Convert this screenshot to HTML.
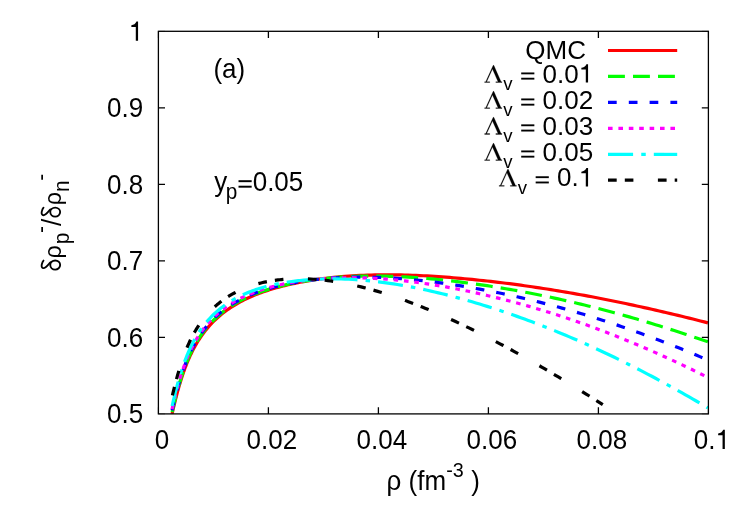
<!DOCTYPE html>
<html><head><meta charset="utf-8"><title>plot</title>
<style>html,body{margin:0;padding:0;background:#fff;}svg{display:block;}g.tx{opacity:0.999;}text{font-family:"Liberation Sans", sans-serif;fill:#000;}</style></head><body>
<svg width="747" height="523" viewBox="0 0 747 523">
<rect width="747" height="523" fill="#fff"/>
<defs><clipPath id="clip"><rect x="158.40" y="31.30" width="550.00" height="382.60"/></clipPath></defs>
<g class="tx">
<path d="M158.40,337.38 h6.60 M708.40,337.38 h-6.60 M268.40,413.90 v-6.60 M268.40,31.30 v6.60 M158.40,260.86 h6.60 M708.40,260.86 h-6.60 M378.40,413.90 v-6.60 M378.40,31.30 v6.60 M158.40,184.34 h6.60 M708.40,184.34 h-6.60 M488.40,413.90 v-6.60 M488.40,31.30 v6.60 M158.40,107.82 h6.60 M708.40,107.82 h-6.60 M598.40,413.90 v-6.60 M598.40,31.30 v6.60" stroke="#000" stroke-width="1.3" fill="none"/>
<path d="M158.40,413.90 h6.60 M708.40,413.90 h-6.60 M158.40,413.90 v-6.60 M158.40,31.30 v6.60 M158.40,31.30 h6.60 M708.40,31.30 h-6.60 M708.40,413.90 v-6.60 M708.40,31.30 v6.60" stroke="#000" stroke-width="1.3" stroke-opacity="0.35" fill="none"/>
<text transform="translate(143.20,423.30) scale(1,1.045)" font-size="26.00" text-anchor="end">0.5</text>
<text transform="translate(143.20,346.78) scale(1,1.045)" font-size="26.00" text-anchor="end">0.6</text>
<text transform="translate(143.20,270.26) scale(1,1.045)" font-size="26.00" text-anchor="end">0.7</text>
<text transform="translate(143.20,193.74) scale(1,1.045)" font-size="26.00" text-anchor="end">0.8</text>
<text transform="translate(143.20,117.22) scale(1,1.045)" font-size="26.00" text-anchor="end">0.9</text>
<path transform="translate(128.74,40.70) scale(0.02600,-0.02717)" d="M271,0 V505 H101 V568 C190,577 258,612 296,703 H359 V0 Z" fill="#000"/>
<text transform="translate(161.90,448.90) scale(1,1.045)" font-size="26.00" text-anchor="middle">0</text>
<text transform="translate(271.90,448.90) scale(1,1.045)" font-size="26.00" text-anchor="middle">0.02</text>
<text transform="translate(381.90,448.90) scale(1,1.045)" font-size="26.00" text-anchor="middle">0.04</text>
<text transform="translate(491.90,448.90) scale(1,1.045)" font-size="26.00" text-anchor="middle">0.06</text>
<text transform="translate(601.90,448.90) scale(1,1.045)" font-size="26.00" text-anchor="middle">0.08</text>
<text transform="translate(693.83,448.90) scale(1,1.045)" font-size="26.00" text-anchor="start">0.</text><path transform="translate(715.51,448.90) scale(0.02600,-0.02717)" d="M271,0 V505 H101 V568 C190,577 258,612 296,703 H359 V0 Z" fill="#000"/>
<g clip-path="url(#clip)" fill="none" stroke-width="3.20" stroke-linejoin="round">
<path d="M172.10,413.83 L172.57,411.78 L173.05,409.74 L173.52,407.73 L173.99,405.75 L174.46,403.79 L174.94,401.85 L175.41,399.95 L175.88,398.08 L176.36,396.25 L176.83,394.44 L177.30,392.67 L177.77,390.93 L178.25,389.22 L178.72,387.55 L179.19,385.91 L179.67,384.30 L180.14,382.72 L180.61,381.17 L181.08,379.66 L181.56,378.17 L182.03,376.71 L182.50,375.29 L182.98,373.89 L183.45,372.52 L183.92,371.17 L184.39,369.85 L184.87,368.56 L185.34,367.30 L185.81,366.06 L186.29,364.85 L186.76,363.65 L187.23,362.49 L187.71,361.34 L188.18,360.22 L188.65,359.12 L189.12,358.05 L189.60,356.99 L190.07,355.95 L190.54,354.94 L191.02,353.94 L191.49,352.97 L191.96,352.01 L192.43,351.07 L192.91,350.14 L193.38,349.24 L193.85,348.35 L194.33,347.47 L194.80,346.61 L195.27,345.77 L195.74,344.94 L196.22,344.12 L196.69,343.32 L197.16,342.53 L197.64,341.76 L198.11,341.00 L198.58,340.24 L199.05,339.51 L199.53,338.78 L200.00,338.07 L201.69,335.59 L203.39,333.25 L205.08,331.03 L206.78,328.93 L208.47,326.92 L210.17,325.02 L211.86,323.20 L213.56,321.46 L215.25,319.81 L216.95,318.22 L218.64,316.71 L220.34,315.26 L222.03,313.86 L223.73,312.53 L225.42,311.25 L227.12,310.01 L228.81,308.83 L230.51,307.69 L232.20,306.59 L233.90,305.53 L235.59,304.51 L237.29,303.52 L238.98,302.57 L240.68,301.65 L242.37,300.76 L244.07,299.90 L245.76,299.07 L247.46,298.27 L249.15,297.49 L250.85,296.74 L252.54,296.01 L254.24,295.31 L255.93,294.62 L257.63,293.96 L259.32,293.31 L261.02,292.69 L262.71,292.08 L264.41,291.49 L266.10,290.92 L267.80,290.37 L269.49,289.83 L271.19,289.31 L272.88,288.80 L274.58,288.30 L276.27,287.82 L277.97,287.35 L279.66,286.90 L281.36,286.46 L283.05,286.02 L284.75,285.61 L286.44,285.20 L288.14,284.80 L289.83,284.41 L291.53,284.04 L293.22,283.67 L294.92,283.31 L296.61,282.97 L298.31,282.63 L300.00,282.30 L303.74,281.60 L307.48,280.94 L311.23,280.33 L314.97,279.74 L318.71,279.20 L322.45,278.70 L326.20,278.23 L329.94,277.79 L333.68,277.39 L337.42,277.02 L341.16,276.68 L344.91,276.37 L348.65,276.10 L352.39,275.85 L356.13,275.63 L359.88,275.44 L363.62,275.28 L367.36,275.14 L371.10,275.03 L374.84,274.94 L378.59,274.88 L382.33,274.84 L386.07,274.82 L389.81,274.82 L393.56,274.85 L397.30,274.90 L401.04,274.97 L404.78,275.05 L408.52,275.16 L412.27,275.28 L416.01,275.43 L419.75,275.59 L423.49,275.77 L427.23,275.96 L430.98,276.17 L434.72,276.40 L438.46,276.64 L442.20,276.90 L445.95,277.17 L449.69,277.46 L453.43,277.76 L457.17,278.07 L460.91,278.40 L464.66,278.74 L468.40,279.09 L472.14,279.45 L475.88,279.83 L479.63,280.22 L483.37,280.62 L487.11,281.03 L490.85,281.45 L494.59,281.88 L498.34,282.32 L502.08,282.77 L505.82,283.24 L509.56,283.71 L513.31,284.20 L517.05,284.69 L520.79,285.20 L524.53,285.72 L528.27,286.24 L532.02,286.78 L535.76,287.33 L539.50,287.89 L543.24,288.46 L546.99,289.04 L550.73,289.63 L554.47,290.23 L558.21,290.85 L561.95,291.47 L565.70,292.10 L569.44,292.74 L573.18,293.40 L576.92,294.06 L580.67,294.73 L584.41,295.41 L588.15,296.10 L591.89,296.80 L595.63,297.52 L599.38,298.24 L603.12,298.97 L606.86,299.70 L610.60,300.45 L614.34,301.21 L618.09,301.98 L621.83,302.75 L625.57,303.54 L629.31,304.33 L633.06,305.13 L636.80,305.94 L640.54,306.76 L644.28,307.58 L648.02,308.42 L651.77,309.26 L655.51,310.11 L659.25,310.97 L662.99,311.84 L666.74,312.72 L670.48,313.60 L674.22,314.49 L677.96,315.39 L681.70,316.29 L685.45,317.21 L689.19,318.13 L692.93,319.05 L696.67,319.99 L700.42,320.93 L704.16,321.88 L707.90,322.84" stroke="#ff0000"/>
<path d="M172.10,412.15 L172.57,410.10 L173.05,408.07 L173.52,406.06 L173.99,404.08 L174.46,402.12 L174.94,400.19 L175.41,398.30 L175.88,396.43 L176.36,394.60 L176.83,392.80 L177.30,391.03 L177.77,389.29 L178.25,387.59 L178.72,385.92 L179.19,384.28 L179.67,382.67 L180.14,381.10 L180.61,379.56 L181.08,378.04 L181.56,376.56 L182.03,375.11 L182.50,373.68 L182.98,372.29 L183.45,370.92 L183.92,369.58 L184.39,368.27 L184.87,366.98 L185.34,365.72 L185.81,364.48 L186.29,363.27 L186.76,362.08 L187.23,360.92 L187.71,359.78 L188.18,358.66 L188.65,357.57 L189.12,356.49 L189.60,355.44 L190.07,354.41 L190.54,353.40 L191.02,352.41 L191.49,351.43 L191.96,350.48 L192.43,349.54 L192.91,348.62 L193.38,347.72 L193.85,346.83 L194.33,345.96 L194.80,345.11 L195.27,344.27 L195.74,343.44 L196.22,342.63 L196.69,341.83 L197.16,341.05 L197.64,340.28 L198.11,339.52 L198.58,338.77 L199.05,338.04 L199.53,337.31 L200.00,336.60 L201.69,334.14 L203.39,331.82 L205.08,329.61 L206.78,327.52 L208.47,325.53 L210.17,323.64 L211.86,321.84 L213.56,320.12 L215.25,318.48 L216.95,316.91 L218.64,315.41 L220.34,313.97 L222.03,312.60 L223.73,311.28 L225.42,310.01 L227.12,308.79 L228.81,307.63 L230.51,306.50 L232.20,305.42 L233.90,304.38 L235.59,303.37 L237.29,302.40 L238.98,301.47 L240.68,300.57 L242.37,299.70 L244.07,298.86 L245.76,298.05 L247.46,297.26 L249.15,296.51 L250.85,295.77 L252.54,295.06 L254.24,294.38 L255.93,293.71 L257.63,293.07 L259.32,292.44 L261.02,291.84 L262.71,291.25 L264.41,290.69 L266.10,290.13 L267.80,289.60 L269.49,289.08 L271.19,288.58 L272.88,288.09 L274.58,287.62 L276.27,287.16 L277.97,286.72 L279.66,286.28 L281.36,285.86 L283.05,285.46 L284.75,285.06 L286.44,284.68 L288.14,284.30 L289.83,283.94 L291.53,283.59 L293.22,283.25 L294.92,282.92 L296.61,282.59 L298.31,282.28 L300.00,281.98 L303.74,281.34 L307.48,280.74 L311.23,280.18 L314.97,279.66 L318.71,279.18 L322.45,278.74 L326.20,278.34 L329.94,277.97 L333.68,277.63 L337.42,277.34 L341.16,277.07 L344.91,276.84 L348.65,276.64 L352.39,276.47 L356.13,276.33 L359.88,276.22 L363.62,276.13 L367.36,276.08 L371.10,276.05 L374.84,276.05 L378.59,276.08 L382.33,276.13 L386.07,276.20 L389.81,276.30 L393.56,276.43 L397.30,276.57 L401.04,276.74 L404.78,276.93 L408.52,277.14 L412.27,277.37 L416.01,277.62 L419.75,277.89 L423.49,278.18 L427.23,278.49 L430.98,278.82 L434.72,279.17 L438.46,279.53 L442.20,279.91 L445.95,280.31 L449.69,280.72 L453.43,281.15 L457.17,281.60 L460.91,282.06 L464.66,282.54 L468.40,283.03 L472.14,283.53 L475.88,284.06 L479.63,284.59 L483.37,285.14 L487.11,285.70 L490.85,286.28 L494.59,286.87 L498.34,287.47 L502.08,288.08 L505.82,288.71 L509.56,289.35 L513.31,290.01 L517.05,290.68 L520.79,291.36 L524.53,292.06 L528.27,292.77 L532.02,293.49 L535.76,294.22 L539.50,294.97 L543.24,295.74 L546.99,296.51 L550.73,297.30 L554.47,298.11 L558.21,298.92 L561.95,299.75 L565.70,300.60 L569.44,301.45 L573.18,302.32 L576.92,303.21 L580.67,304.10 L584.41,305.01 L588.15,305.93 L591.89,306.87 L595.63,307.81 L599.38,308.77 L603.12,309.75 L606.86,310.73 L610.60,311.73 L614.34,312.74 L618.09,313.76 L621.83,314.80 L625.57,315.84 L629.31,316.90 L633.06,317.98 L636.80,319.06 L640.54,320.16 L644.28,321.26 L648.02,322.38 L651.77,323.51 L655.51,324.66 L659.25,325.81 L662.99,326.98 L666.74,328.16 L670.48,329.35 L674.22,330.55 L677.96,331.76 L681.70,332.98 L685.45,334.22 L689.19,335.47 L692.93,336.72 L696.67,337.99 L700.42,339.27 L704.16,340.56 L707.90,341.86" stroke="#00ff00" stroke-dasharray="16.90,8.10" stroke-dashoffset="0.00"/>
<path d="M172.10,410.47 L172.57,408.42 L173.05,406.40 L173.52,404.39 L173.99,402.41 L174.46,400.46 L174.94,398.53 L175.41,396.64 L175.88,394.78 L176.36,392.95 L176.83,391.15 L177.30,389.38 L177.77,387.65 L178.25,385.95 L178.72,384.28 L179.19,382.65 L179.67,381.05 L180.14,379.47 L180.61,377.93 L181.08,376.42 L181.56,374.94 L182.03,373.49 L182.50,372.07 L182.98,370.68 L183.45,369.32 L183.92,367.98 L184.39,366.67 L184.87,365.39 L185.34,364.13 L185.81,362.90 L186.29,361.69 L186.76,360.51 L187.23,359.35 L187.71,358.21 L188.18,357.10 L188.65,356.00 L189.12,354.93 L189.60,353.88 L190.07,352.86 L190.54,351.85 L191.02,350.86 L191.49,349.89 L191.96,348.94 L192.43,348.01 L192.91,347.09 L193.38,346.19 L193.85,345.31 L194.33,344.44 L194.80,343.59 L195.27,342.75 L195.74,341.93 L196.22,341.12 L196.69,340.33 L197.16,339.55 L197.64,338.78 L198.11,338.02 L198.58,337.28 L199.05,336.55 L199.53,335.83 L200.00,335.13 L201.69,332.68 L203.39,330.37 L205.08,328.18 L206.78,326.10 L208.47,324.13 L210.17,322.25 L211.86,320.46 L213.56,318.76 L215.25,317.13 L216.95,315.58 L218.64,314.10 L220.34,312.68 L222.03,311.32 L223.73,310.01 L225.42,308.76 L227.12,307.56 L228.81,306.41 L230.51,305.31 L232.20,304.24 L233.90,303.22 L235.59,302.23 L237.29,301.28 L238.98,300.37 L240.68,299.48 L242.37,298.63 L244.07,297.81 L245.76,297.02 L247.46,296.26 L249.15,295.52 L250.85,294.80 L252.54,294.11 L254.24,293.45 L255.93,292.80 L257.63,292.18 L259.32,291.58 L261.02,290.99 L262.71,290.43 L264.41,289.88 L266.10,289.36 L267.80,288.85 L269.49,288.35 L271.19,287.87 L272.88,287.41 L274.58,286.96 L276.27,286.52 L277.97,286.10 L279.66,285.69 L281.36,285.30 L283.05,284.92 L284.75,284.54 L286.44,284.19 L288.14,283.84 L289.83,283.50 L291.53,283.18 L293.22,282.86 L294.92,282.56 L296.61,282.26 L298.31,281.97 L300.00,281.70 L303.74,281.12 L307.48,280.58 L311.23,280.09 L314.97,279.64 L318.71,279.23 L322.45,278.85 L326.20,278.52 L329.94,278.22 L333.68,277.96 L337.42,277.74 L341.16,277.55 L344.91,277.39 L348.65,277.27 L352.39,277.18 L356.13,277.13 L359.88,277.10 L363.62,277.11 L367.36,277.14 L371.10,277.20 L374.84,277.29 L378.59,277.41 L382.33,277.56 L386.07,277.73 L389.81,277.93 L393.56,278.15 L397.30,278.39 L401.04,278.67 L404.78,278.96 L408.52,279.28 L412.27,279.62 L416.01,279.98 L419.75,280.36 L423.49,280.77 L427.23,281.20 L430.98,281.64 L434.72,282.11 L438.46,282.59 L442.20,283.10 L445.95,283.62 L449.69,284.17 L453.43,284.73 L457.17,285.31 L460.91,285.90 L464.66,286.52 L468.40,287.15 L472.14,287.80 L475.88,288.46 L479.63,289.14 L483.37,289.84 L487.11,290.55 L490.85,291.28 L494.59,292.02 L498.34,292.78 L502.08,293.55 L505.82,294.34 L509.56,295.15 L513.31,295.97 L517.05,296.81 L520.79,297.66 L524.53,298.53 L528.27,299.41 L532.02,300.31 L535.76,301.23 L539.50,302.16 L543.24,303.11 L546.99,304.08 L550.73,305.06 L554.47,306.05 L558.21,307.06 L561.95,308.09 L565.70,309.14 L569.44,310.20 L573.18,311.27 L576.92,312.36 L580.67,313.47 L584.41,314.59 L588.15,315.73 L591.89,316.88 L595.63,318.05 L599.38,319.23 L603.12,320.43 L606.86,321.65 L610.60,322.88 L614.34,324.12 L618.09,325.38 L621.83,326.66 L625.57,327.95 L629.31,329.26 L633.06,330.58 L636.80,331.91 L640.54,333.26 L644.28,334.63 L648.02,336.01 L651.77,337.41 L655.51,338.82 L659.25,340.24 L662.99,341.68 L666.74,343.14 L670.48,344.60 L674.22,346.09 L677.96,347.59 L681.70,349.10 L685.45,350.63 L689.19,352.17 L692.93,353.72 L696.67,355.29 L700.42,356.87 L704.16,358.47 L707.90,360.08" stroke="#0000ff" stroke-dasharray="8.70,12.10" stroke-dashoffset="0.00"/>
<path d="M172.10,409.02 L172.57,406.98 L173.05,404.95 L173.52,402.95 L173.99,400.97 L174.46,399.01 L174.94,397.09 L175.41,395.19 L175.88,393.33 L176.36,391.50 L176.83,389.70 L177.30,387.93 L177.77,386.20 L178.25,384.50 L178.72,382.83 L179.19,381.20 L179.67,379.59 L180.14,378.02 L180.61,376.48 L181.08,374.97 L181.56,373.49 L182.03,372.04 L182.50,370.62 L182.98,369.23 L183.45,367.87 L183.92,366.53 L184.39,365.22 L184.87,363.94 L185.34,362.68 L185.81,361.45 L186.29,360.24 L186.76,359.06 L187.23,357.90 L187.71,356.76 L188.18,355.65 L188.65,354.56 L189.12,353.49 L189.60,352.44 L190.07,351.41 L190.54,350.40 L191.02,349.41 L191.49,348.45 L191.96,347.50 L192.43,346.56 L192.91,345.65 L193.38,344.75 L193.85,343.87 L194.33,343.00 L194.80,342.15 L195.27,341.31 L195.74,340.49 L196.22,339.68 L196.69,338.89 L197.16,338.11 L197.64,337.34 L198.11,336.59 L198.58,335.85 L199.05,335.12 L199.53,334.40 L200.00,333.70 L201.69,331.26 L203.39,328.95 L205.08,326.76 L206.78,324.69 L208.47,322.72 L210.17,320.85 L211.86,319.07 L213.56,317.38 L215.25,315.76 L216.95,314.21 L218.64,312.74 L220.34,311.33 L222.03,309.97 L223.73,308.68 L225.42,307.44 L227.12,306.25 L228.81,305.11 L230.51,304.01 L232.20,302.96 L233.90,301.95 L235.59,300.97 L237.29,300.04 L238.98,299.13 L240.68,298.27 L242.37,297.43 L244.07,296.62 L245.76,295.84 L247.46,295.09 L249.15,294.37 L250.85,293.67 L252.54,293.00 L254.24,292.35 L255.93,291.72 L257.63,291.12 L259.32,290.53 L261.02,289.97 L262.71,289.42 L264.41,288.90 L266.10,288.39 L267.80,287.90 L269.49,287.42 L271.19,286.96 L272.88,286.52 L274.58,286.09 L276.27,285.68 L277.97,285.28 L279.66,284.89 L281.36,284.52 L283.05,284.16 L284.75,283.81 L286.44,283.48 L288.14,283.16 L289.83,282.84 L291.53,282.54 L293.22,282.25 L294.92,281.97 L296.61,281.71 L298.31,281.45 L300.00,281.20 L303.74,280.68 L307.48,280.21 L311.23,279.78 L314.97,279.39 L318.71,279.05 L322.45,278.75 L326.20,278.49 L329.94,278.27 L333.68,278.08 L337.42,277.94 L341.16,277.83 L344.91,277.76 L348.65,277.72 L352.39,277.72 L356.13,277.75 L359.88,277.81 L363.62,277.91 L367.36,278.04 L371.10,278.19 L374.84,278.38 L378.59,278.60 L382.33,278.85 L386.07,279.12 L389.81,279.42 L393.56,279.75 L397.30,280.11 L401.04,280.49 L404.78,280.90 L408.52,281.33 L412.27,281.79 L416.01,282.27 L419.75,282.77 L423.49,283.30 L427.23,283.85 L430.98,284.43 L434.72,285.02 L438.46,285.64 L442.20,286.27 L445.95,286.93 L449.69,287.61 L453.43,288.31 L457.17,289.03 L460.91,289.76 L464.66,290.52 L468.40,291.30 L472.14,292.09 L475.88,292.91 L479.63,293.74 L483.37,294.59 L487.11,295.45 L490.85,296.34 L494.59,297.24 L498.34,298.16 L502.08,299.09 L505.82,300.05 L509.56,301.02 L513.31,302.01 L517.05,303.02 L520.79,304.04 L524.53,305.08 L528.27,306.14 L532.02,307.22 L535.76,308.32 L539.50,309.43 L543.24,310.56 L546.99,311.71 L550.73,312.88 L554.47,314.07 L558.21,315.27 L561.95,316.49 L565.70,317.73 L569.44,318.98 L573.18,320.25 L576.92,321.55 L580.67,322.85 L584.41,324.18 L588.15,325.52 L591.89,326.88 L595.63,328.26 L599.38,329.66 L603.12,331.07 L606.86,332.50 L610.60,333.95 L614.34,335.41 L618.09,336.89 L621.83,338.39 L625.57,339.91 L629.31,341.44 L633.06,342.99 L636.80,344.55 L640.54,346.14 L644.28,347.74 L648.02,349.35 L651.77,350.99 L655.51,352.64 L659.25,354.30 L662.99,355.99 L666.74,357.69 L670.48,359.40 L674.22,361.13 L677.96,362.88 L681.70,364.65 L685.45,366.43 L689.19,368.23 L692.93,370.04 L696.67,371.87 L700.42,373.71 L704.16,375.58 L707.90,377.45" stroke="#ff00ff" stroke-dasharray="4.60,5.80" stroke-dashoffset="0.00"/>
<path d="M172.12,406.00 L172.57,404.02 L173.05,401.99 L173.52,399.98 L173.99,398.00 L174.46,396.04 L174.94,394.11 L175.41,392.22 L175.88,390.35 L176.36,388.52 L176.83,386.72 L177.30,384.95 L177.77,383.22 L178.25,381.51 L178.72,379.84 L179.19,378.21 L179.67,376.60 L180.14,375.03 L180.61,373.49 L181.08,371.98 L181.56,370.50 L182.03,369.05 L182.50,367.62 L182.98,366.23 L183.45,364.87 L183.92,363.53 L184.39,362.22 L184.87,360.94 L185.34,359.68 L185.81,358.45 L186.29,357.24 L186.76,356.05 L187.23,354.90 L187.71,353.76 L188.18,352.65 L188.65,351.55 L189.12,350.49 L189.60,349.44 L190.07,348.41 L190.54,347.40 L191.02,346.42 L191.49,345.45 L191.96,344.50 L192.43,343.57 L192.91,342.65 L193.38,341.76 L193.85,340.87 L194.33,340.01 L194.80,339.16 L195.27,338.33 L195.74,337.51 L196.22,336.70 L196.69,335.91 L197.16,335.13 L197.64,334.37 L198.11,333.61 L198.58,332.87 L199.05,332.15 L199.53,331.43 L200.00,330.73 L201.69,328.30 L203.39,326.00 L205.08,323.83 L206.78,321.77 L208.47,319.81 L210.17,317.96 L211.86,316.19 L213.56,314.51 L215.25,312.91 L216.95,311.38 L218.64,309.93 L220.34,308.54 L222.03,307.21 L223.73,305.94 L225.42,304.72 L227.12,303.56 L228.81,302.44 L230.51,301.38 L232.20,300.35 L233.90,299.37 L235.59,298.42 L237.29,297.52 L238.98,296.65 L240.68,295.81 L242.37,295.01 L244.07,294.24 L245.76,293.50 L247.46,292.78 L249.15,292.10 L250.85,291.44 L252.54,290.81 L254.24,290.20 L255.93,289.61 L257.63,289.05 L259.32,288.51 L261.02,287.99 L262.71,287.49 L264.41,287.01 L266.10,286.55 L267.80,286.11 L269.49,285.68 L271.19,285.27 L272.88,284.88 L274.58,284.51 L276.27,284.15 L277.97,283.80 L279.66,283.47 L281.36,283.16 L283.05,282.85 L284.75,282.56 L286.44,282.29 L288.14,282.02 L289.83,281.77 L291.53,281.53 L293.22,281.31 L294.92,281.09 L296.61,280.89 L298.31,280.69 L300.00,280.51 L303.74,280.14 L307.48,279.82 L311.23,279.55 L314.97,279.32 L318.71,279.15 L322.45,279.01 L326.20,278.92 L329.94,278.88 L333.68,278.87 L337.42,278.91 L341.16,278.99 L344.91,279.11 L348.65,279.27 L352.39,279.46 L356.13,279.70 L359.88,279.97 L363.62,280.27 L367.36,280.61 L371.10,280.99 L374.84,281.39 L378.59,281.83 L382.33,282.31 L386.07,282.81 L389.81,283.34 L393.56,283.91 L397.30,284.50 L401.04,285.13 L404.78,285.78 L408.52,286.46 L412.27,287.16 L416.01,287.90 L419.75,288.66 L423.49,289.44 L427.23,290.25 L430.98,291.09 L434.72,291.95 L438.46,292.83 L442.20,293.74 L445.95,294.67 L449.69,295.63 L453.43,296.61 L457.17,297.61 L460.91,298.63 L464.66,299.67 L468.40,300.73 L472.14,301.82 L475.88,302.92 L479.63,304.05 L483.37,305.19 L487.11,306.36 L490.85,307.54 L494.59,308.75 L498.34,309.97 L502.08,311.21 L505.82,312.47 L509.56,313.75 L513.31,315.05 L517.05,316.37 L520.79,317.71 L524.53,319.07 L528.27,320.44 L532.02,321.84 L535.76,323.26 L539.50,324.69 L543.24,326.14 L546.99,327.62 L550.73,329.11 L554.47,330.62 L558.21,332.15 L561.95,333.70 L565.70,335.27 L569.44,336.85 L573.18,338.46 L576.92,340.08 L580.67,341.72 L584.41,343.38 L588.15,345.06 L591.89,346.76 L595.63,348.47 L599.38,350.20 L603.12,351.95 L606.86,353.72 L610.60,355.51 L614.34,357.31 L618.09,359.13 L621.83,360.97 L625.57,362.82 L629.31,364.70 L633.06,366.59 L636.80,368.49 L640.54,370.42 L644.28,372.36 L648.02,374.32 L651.77,376.29 L655.51,378.28 L659.25,380.29 L662.99,382.31 L666.74,384.35 L670.48,386.41 L674.22,388.48 L677.96,390.57 L681.70,392.68 L685.45,394.80 L689.19,396.93 L692.93,399.09 L696.67,401.25 L700.42,403.44 L704.16,405.64 L707.90,407.85" stroke="#00ffff" stroke-dasharray="25.10,8.15,4.50,8.05" stroke-dashoffset="0.00"/>
<path d="M172.40,395.40 L172.57,394.66 L173.05,392.69 L173.52,390.75 L173.99,388.82 L174.46,386.93 L174.94,385.06 L175.41,383.22 L175.88,381.42 L176.36,379.64 L176.83,377.90 L177.30,376.18 L177.77,374.50 L178.25,372.85 L178.72,371.24 L179.19,369.65 L179.67,368.09 L180.14,366.57 L180.61,365.08 L181.08,363.61 L181.56,362.18 L182.03,360.77 L182.50,359.40 L182.98,358.05 L183.45,356.72 L183.92,355.43 L184.39,354.16 L184.87,352.92 L185.34,351.70 L185.81,350.50 L186.29,349.34 L186.76,348.19 L187.23,347.07 L187.71,345.97 L188.18,344.89 L188.65,343.83 L189.12,342.79 L189.60,341.78 L190.07,340.78 L190.54,339.81 L191.02,338.85 L191.49,337.91 L191.96,336.99 L192.43,336.09 L192.91,335.21 L193.38,334.34 L193.85,333.48 L194.33,332.64 L194.80,331.82 L195.27,331.01 L195.74,330.22 L196.22,329.43 L196.69,328.67 L197.16,327.91 L197.64,327.17 L198.11,326.44 L198.58,325.72 L199.05,325.02 L199.53,324.32 L200.00,323.64 L201.69,321.28 L203.39,319.05 L205.08,316.93 L206.78,314.93 L208.47,313.03 L210.17,311.22 L211.86,309.50 L213.56,307.87 L215.25,306.32 L216.95,304.83 L218.64,303.42 L220.34,302.08 L222.03,300.79 L223.73,299.56 L225.42,298.39 L227.12,297.27 L228.81,296.20 L230.51,295.18 L232.20,294.20 L233.90,293.26 L235.59,292.37 L237.29,291.51 L238.98,290.69 L240.68,289.91 L242.37,289.16 L244.07,288.45 L245.76,287.77 L247.46,287.12 L249.15,286.50 L250.85,285.91 L252.54,285.35 L254.24,284.82 L255.93,284.32 L257.63,283.84 L259.32,283.38 L261.02,282.95 L262.71,282.55 L264.41,282.17 L266.10,281.82 L267.80,281.48 L269.49,281.17 L271.19,280.88 L272.88,280.61 L274.58,280.36 L276.27,280.13 L277.97,279.92 L279.66,279.73 L281.36,279.56 L283.05,279.40 L284.75,279.26 L286.44,279.14 L288.14,279.04 L289.83,278.95 L291.53,278.87 L293.22,278.82 L294.92,278.77 L296.61,278.75 L298.31,278.73 L300.00,278.73 L302.78,278.76 L305.56,278.83 L308.33,278.93 L311.11,279.07 L313.89,279.24 L316.67,279.45 L319.45,279.69 L322.22,279.96 L325.00,280.27 L327.78,280.60 L330.56,280.97 L333.34,281.37 L336.11,281.79 L338.89,282.25 L341.67,282.73 L344.45,283.25 L347.23,283.79 L350.00,284.36 L352.78,284.95 L355.56,285.57 L358.34,286.22 L361.12,286.89 L363.89,287.58 L366.67,288.30 L369.45,289.04 L372.23,289.81 L375.01,290.59 L377.78,291.40 L380.56,292.23 L383.34,293.08 L386.12,293.96 L388.90,294.85 L391.67,295.76 L394.45,296.69 L397.23,297.64 L400.01,298.61 L402.79,299.60 L405.56,300.61 L408.34,301.63 L411.12,302.68 L413.90,303.74 L416.68,304.81 L419.45,305.91 L422.23,307.02 L425.01,308.15 L427.79,309.29 L430.57,310.45 L433.34,311.62 L436.12,312.81 L438.90,314.01 L441.68,315.23 L444.46,316.47 L447.23,317.71 L450.01,318.97 L452.79,320.25 L455.57,321.54 L458.34,322.84 L461.12,324.15 L463.90,325.48 L466.68,326.82 L469.46,328.17 L472.23,329.53 L475.01,330.91 L477.79,332.30 L480.57,333.69 L483.35,335.10 L486.12,336.52 L488.90,337.96 L491.68,339.40 L494.46,340.85 L497.24,342.31 L500.01,343.79 L502.79,345.27 L505.57,346.76 L508.35,348.27 L511.13,349.78 L513.90,351.30 L516.68,352.83 L519.46,354.38 L522.24,355.93 L525.02,357.49 L527.79,359.06 L530.57,360.64 L533.35,362.23 L536.13,363.83 L538.91,365.44 L541.68,367.05 L544.46,368.68 L547.24,370.31 L550.02,371.96 L552.80,373.61 L555.57,375.26 L558.35,376.93 L561.13,378.61 L563.91,380.29 L566.69,381.98 L569.46,383.68 L572.24,385.38 L575.02,387.10 L577.80,388.82 L580.58,390.54 L583.35,392.28 L586.13,394.02 L588.91,395.77 L591.69,397.52 L594.47,399.28 L597.24,401.05 L600.02,402.83 L602.80,404.61" stroke="#000000" stroke-dasharray="8.70,8.10,8.60,24.50" stroke-dashoffset="0.00"/>
</g>
<rect x="158.40" y="31.30" width="550.00" height="382.60" fill="none" stroke="#000" stroke-width="1.3"/>
<path d="M608.00,50.50 H677.20" stroke="#ff0000" stroke-width="3.20" fill="none"/>
<path d="M608.00,76.40 H677.20" stroke="#00ff00" stroke-width="3.20" fill="none" stroke-dasharray="16.90,8.10"/>
<path d="M608.00,102.40 H677.20" stroke="#0000ff" stroke-width="3.20" fill="none" stroke-dasharray="8.70,12.10"/>
<path d="M608.00,128.30 H677.20" stroke="#ff00ff" stroke-width="3.20" fill="none" stroke-dasharray="4.60,5.80"/>
<path d="M608.00,154.40 H677.20" stroke="#00ffff" stroke-width="3.20" fill="none" stroke-dasharray="25.10,8.15,4.50,8.05"/>
<path d="M608.00,180.20 H677.20" stroke="#000000" stroke-width="3.20" fill="none" stroke-dasharray="8.70,8.10,8.60,24.50"/>
<text transform="translate(586.00,59.00) scale(1,1.000)" font-size="26.00" text-anchor="end">QMC</text>
<text transform="translate(542.60,82.60) scale(1,1.000)" font-size="26.00" text-anchor="start">0.0</text><path transform="translate(578.74,82.60) scale(0.02600,-0.02600)" d="M271,0 V505 H101 V568 C190,577 258,612 296,703 H359 V0 Z" fill="#000"/>
<rect x="521.20" y="77.74" width="13.16" height="1.87" fill="#000"/><rect x="521.20" y="72.46" width="13.16" height="1.87" fill="#000"/>
<text transform="translate(512.56,90.00) scale(1,1.000)" font-size="18.60" text-anchor="end">v</text>
<path d="M484.61,82.50 L489.81,82.50 L489.81,81.72 L486.69,81.72 L492.46,69.06 L498.07,81.72 L495.81,81.72 L495.81,82.50 L502.01,82.50 L502.01,81.72 L501.07,81.72 L493.81,65.33 L493.21,65.33 L485.74,81.72 L484.61,81.72 Z" fill="#000" stroke="#000" stroke-width="0.25" stroke-linejoin="round"/>
<text transform="translate(593.20,108.60) scale(1,1.000)" font-size="26.00" text-anchor="end">0.02</text>
<rect x="521.20" y="103.74" width="13.16" height="1.87" fill="#000"/><rect x="521.20" y="98.46" width="13.16" height="1.87" fill="#000"/>
<text transform="translate(512.56,116.00) scale(1,1.000)" font-size="18.60" text-anchor="end">v</text>
<path d="M484.61,108.50 L489.81,108.50 L489.81,107.72 L486.69,107.72 L492.46,95.06 L498.07,107.72 L495.81,107.72 L495.81,108.50 L502.01,108.50 L502.01,107.72 L501.07,107.72 L493.81,91.33 L493.21,91.33 L485.74,107.72 L484.61,107.72 Z" fill="#000" stroke="#000" stroke-width="0.25" stroke-linejoin="round"/>
<text transform="translate(593.20,134.50) scale(1,1.000)" font-size="26.00" text-anchor="end">0.03</text>
<rect x="521.20" y="129.64" width="13.16" height="1.87" fill="#000"/><rect x="521.20" y="124.36" width="13.16" height="1.87" fill="#000"/>
<text transform="translate(512.56,141.90) scale(1,1.000)" font-size="18.60" text-anchor="end">v</text>
<path d="M484.61,134.40 L489.81,134.40 L489.81,133.62 L486.69,133.62 L492.46,120.96 L498.07,133.62 L495.81,133.62 L495.81,134.40 L502.01,134.40 L502.01,133.62 L501.07,133.62 L493.81,117.23 L493.21,117.23 L485.74,133.62 L484.61,133.62 Z" fill="#000" stroke="#000" stroke-width="0.25" stroke-linejoin="round"/>
<text transform="translate(593.20,160.60) scale(1,1.000)" font-size="26.00" text-anchor="end">0.05</text>
<rect x="521.20" y="155.74" width="13.16" height="1.87" fill="#000"/><rect x="521.20" y="150.46" width="13.16" height="1.87" fill="#000"/>
<text transform="translate(512.56,168.00) scale(1,1.000)" font-size="18.60" text-anchor="end">v</text>
<path d="M484.61,160.50 L489.81,160.50 L489.81,159.72 L486.69,159.72 L492.46,147.06 L498.07,159.72 L495.81,159.72 L495.81,160.50 L502.01,160.50 L502.01,159.72 L501.07,159.72 L493.81,143.33 L493.21,143.33 L485.74,159.72 L484.61,159.72 Z" fill="#000" stroke="#000" stroke-width="0.25" stroke-linejoin="round"/>
<text transform="translate(557.06,186.40) scale(1,1.000)" font-size="26.00" text-anchor="start">0.</text><path transform="translate(578.74,186.40) scale(0.02600,-0.02600)" d="M271,0 V505 H101 V568 C190,577 258,612 296,703 H359 V0 Z" fill="#000"/>
<rect x="535.66" y="181.54" width="13.16" height="1.87" fill="#000"/><rect x="535.66" y="176.26" width="13.16" height="1.87" fill="#000"/>
<text transform="translate(527.02,193.80) scale(1,1.000)" font-size="18.60" text-anchor="end">v</text>
<path d="M499.07,186.30 L504.27,186.30 L504.27,185.52 L501.15,185.52 L506.92,172.86 L512.53,185.52 L510.27,185.52 L510.27,186.30 L516.47,186.30 L516.47,185.52 L515.53,185.52 L508.27,169.13 L507.67,169.13 L500.20,185.52 L499.07,185.52 Z" fill="#000" stroke="#000" stroke-width="0.25" stroke-linejoin="round"/>
<text transform="translate(213.40,78.10) scale(1,1.045)" font-size="26.00" text-anchor="start">(a)</text>
<text transform="translate(214.20,190.80) scale(1,1.045)" font-size="26.00" text-anchor="start">y</text>
<text transform="translate(225.70,198.60) scale(1,1.045)" font-size="20.80" text-anchor="start">p</text>
<rect x="238.51" y="185.72" width="13.16" height="1.96" fill="#000"/><rect x="238.51" y="180.20" width="13.16" height="1.96" fill="#000"/>
<text transform="translate(252.68,190.80) scale(1,1.045)" font-size="26.00" text-anchor="start">0.05</text>
<text transform="translate(386.60,489.70) scale(1,1.045)" font-size="26.00" text-anchor="start">&#961; (fm</text>
<text transform="translate(446.15,477.20) scale(1,1.045)" font-size="19.76" text-anchor="start">-3</text>
<text transform="translate(471.25,489.70) scale(1,1.045)" font-size="26.00" text-anchor="start">)</text>
<g transform="translate(60.80,271.00) rotate(-90) scale(1,-1)" fill="none" stroke="#000" stroke-width="1.85" stroke-linecap="round"><ellipse cx="6.0" cy="5.6" rx="4.55" ry="4.95"/><path d="M8.7,10.4 C6.6,12.4 2.9,15.0 2.9,17.3 C2.9,18.9 4.6,19.4 6.2,19.1 C8.0,18.7 9.6,18.1 10.4,17.3"/></g>
<text transform="translate(60.80,251.75) rotate(-90) scale(0.900,0.950)" font-size="26.00" text-anchor="middle">&#961;</text>
<text transform="translate(68.60,238.40) rotate(-90) scale(1.000,1.045)" font-size="20.80" text-anchor="middle">p</text>
<text transform="translate(47.70,229.55) rotate(-90) scale(1.000,1.045)" font-size="20.80" text-anchor="middle">-</text>
<text transform="translate(60.80,222.40) rotate(-90) scale(1.000,1.045)" font-size="26.00" text-anchor="middle">/</text>
<g transform="translate(60.80,218.10) rotate(-90) scale(1,-1)" fill="none" stroke="#000" stroke-width="1.85" stroke-linecap="round"><ellipse cx="6.0" cy="5.6" rx="4.55" ry="4.95"/><path d="M8.7,10.4 C6.6,12.4 2.9,15.0 2.9,17.3 C2.9,18.9 4.6,19.4 6.2,19.1 C8.0,18.7 9.6,18.1 10.4,17.3"/></g>
<text transform="translate(60.80,198.60) rotate(-90) scale(0.900,0.950)" font-size="26.00" text-anchor="middle">&#961;</text>
<text transform="translate(68.60,186.30) rotate(-90) scale(1.000,1.045)" font-size="20.80" text-anchor="middle">n</text>
<text transform="translate(47.70,177.20) rotate(-90) scale(1.000,1.045)" font-size="20.80" text-anchor="middle">-</text>
</g></svg></body></html>
